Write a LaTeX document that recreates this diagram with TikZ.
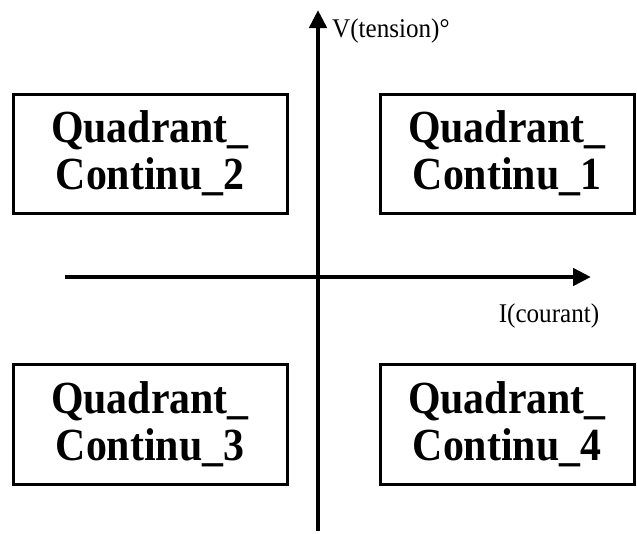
\documentclass[tikz,border=0pt]{standalone}
\usepackage{fontspec}
\setmainfont{Liberation Serif}
\newfontfamily\boxfont{Liberation Serif}[FakeStretch=0.91]
\newfontfamily\labfont{Liberation Serif}[FakeStretch=0.93]
\usetikzlibrary{arrows.meta}
\begin{document}
\begin{tikzpicture}[x=1pt,y=-1pt,
  quadbox/.style={draw,line width=3pt,minimum width=274pt,minimum height=119pt,align=center,font=\boxfont\fontsize{46}{47}\selectfont\bfseries,inner sep=0pt},
  axis/.style={line width=4.5pt,-{Triangle[length=18pt,width=17pt]}},
  axlabel/.style={font=\labfont\fontsize{27}{29}\selectfont,inner sep=0pt}]
\useasboundingbox (0,0) rectangle (637,533);
\node[quadbox] (q2) at (150,153.5) {Quadrant\_\\Continu\_2};
\node[quadbox,minimum width=254pt] (q1) at (507,153.5) {Quadrant\_\\Continu\_1};
\node[quadbox,minimum width=274pt,minimum height=120pt] (q3) at (150,424) {Quadrant\_\\Continu\_3};
\node[quadbox,minimum width=254pt,minimum height=120pt] (q4) at (507,424) {Quadrant\_\\Continu\_4};
\coordinate (vb) at (318,531);
\coordinate (vt) at (318,10);
\coordinate (hl) at (65,277);
\coordinate (hr) at (591,277);
\draw[axis] (vb) -- (vt);
\draw[axis] (hl) -- (hr);
\node[axlabel,anchor=base west] (vl) at (332,37) {V(tension)°};
\node[axlabel,anchor=base] (il) at (549,322) {I(courant)};
\end{tikzpicture}
\end{document}
